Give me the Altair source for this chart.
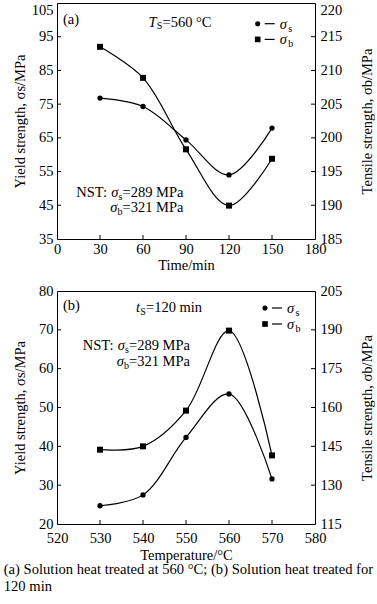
import altair as alt
import pandas as pd

FONT = "Liberation Serif, Times New Roman, serif"
FS = 14.5
SUB = 10

# ---------------- data ----------------
# (a) solution heat treated at 560 °C
time_min = [30, 60, 90, 120, 150]
yield_a = [76.8, 74.3, 64.4, 54.0, 67.9]
tensile_a = [213.5, 208.9, 198.3, 189.95, 196.9]
# (b) solution heat treated for 120 min
temp_c = [530, 540, 550, 560, 570]
yield_b = [24.7, 27.5, 42.3, 53.5, 31.6]
tensile_b = [143.7, 145.0, 158.8, 189.7, 141.5]

xticks_a = [0, 30, 60, 90, 120, 150, 180]
lticks_a = [35, 45, 55, 65, 75, 85, 95, 105]
rticks_a = [185, 190, 195, 200, 205, 210, 215, 220]
xticks_b = [520, 530, 540, 550, 560, 570, 580]
lticks_b = [20, 30, 40, 50, 60, 70, 80]
rticks_b = [115, 130, 145, 160, 175, 190, 205]

caption = ["(a) Solution heat treated at 560 °C; (b) Solution heat treated for",
           "120 min"]

one = pd.DataFrame({"k": [0]})


def txt(s, x, y, size=FS, style="normal", align="left"):
    return alt.Chart(one).mark_text(
        font=FONT, fontSize=size, fontStyle=style, align=align,
        baseline="alphabetic", color="black"
    ).encode(x=alt.value(x), y=alt.value(y), text=alt.value(s))


def top_baseline(ticks, flush):
    if not flush:
        return "middle"
    return {"condition": {"test": f"datum.value == {ticks[-1]}", "value": "top"},
            "value": "middle"}


def panel(xv, sv, bv, xticks, lticks, rticks, xtitle, W, H, ann, tp_left, flush_top, xpad, xtpad):
    df = pd.DataFrame({"x": xv, "s": sv, "b": bv})
    X = alt.X("x:Q", scale=alt.Scale(domain=[xticks[0], xticks[-1]], nice=False, zero=False),
              axis=alt.Axis(values=xticks, title=xtitle, format="d", domain=False, ticks=False,
                            grid=False, labelFlush=False, labelFont=FONT, labelFontSize=FS,
                            labelColor="black", labelPadding=xpad, titleFont=FONT,
                            titleFontSize=FS, titleFontWeight="normal", titleColor="black",
                            titlePadding=xtpad))
    YL = alt.Y("s:Q", scale=alt.Scale(domain=[lticks[0], lticks[-1]], nice=False, zero=False),
               axis=alt.Axis(orient="left", values=lticks, title="Yield strength, σs/MPa",
                             domain=False, ticks=False, grid=False, labelFont=FONT,
                             labelFontSize=FS, labelColor="black", labelPadding=4,
                             labelBaseline=top_baseline(lticks, flush_top), titleFont=FONT,
                             titleFontSize=FS, titleFontWeight="normal", titleColor="black",
                             titlePadding=tp_left))
    YR = alt.Y("b:Q", scale=alt.Scale(domain=[rticks[0], rticks[-1]], nice=False, zero=False),
               axis=alt.Axis(orient="right", values=rticks, title="Tensile strength, σb/MPa",
                             domain=False, ticks=False, grid=False, labelFont=FONT,
                             labelFontSize=FS, labelColor="black", labelPadding=5,
                             labelBaseline=top_baseline(rticks, flush_top),
                             titleFont=FONT, titleFontSize=FS, titleFontWeight="normal",
                             titleColor="black", titleAngle=270, titlePadding=33))
    base = alt.Chart(df)
    line_s = base.mark_line(interpolate="catmull-rom", color="black", strokeWidth=1.2).encode(x=X, y=YL)
    pts_s = base.mark_point(shape="circle", filled=True, size=28, color="black", opacity=1).encode(x=X, y=YL)
    tick_l = alt.Chart(pd.DataFrame({"s": lticks[1:-1]})).mark_rule(color="black", strokeWidth=1).encode(
        y=YL, x=alt.value(0), x2=alt.value(4))
    tick_x = alt.Chart(pd.DataFrame({"x": xticks[1:-1]})).mark_rule(color="black", strokeWidth=1).encode(
        x=X, y=alt.value(H - 4), y2=alt.value(H))
    line_b = base.mark_line(interpolate="catmull-rom", color="black", strokeWidth=1.2).encode(x=X, y=YR)
    pts_b = base.mark_point(shape="square", filled=True, size=36, color="black", opacity=1).encode(x=X, y=YR)
    tick_r = alt.Chart(pd.DataFrame({"b": rticks[1:-1]})).mark_rule(color="black", strokeWidth=1).encode(
        y=YR, x=alt.value(W - 4), x2=alt.value(W))

    a = ann
    layers = [line_s, pts_s, tick_l, tick_x]
    layers.append(txt(a["tag"], 6, a["tag_y"]))
    layers.append(txt(a["cond_var"], a["cond_x"], a["cond_y"], style="italic", align="right"))
    layers.append(txt("S", a["cond_x"] + 0.3, a["cond_y"] + 2.5, size=SUB))
    layers.append(txt(a["cond_rest"], a["cond_x"] + 6, a["cond_y"]))
    # legend
    lx, ly1, ly2 = a["leg_x"], a["leg_y1"], a["leg_y2"]
    layers.append(alt.Chart(one).mark_point(shape="circle", filled=True, size=26, color="black", opacity=1)
                  .encode(x=alt.value(lx), y=alt.value(ly1)))
    layers.append(alt.Chart(one).mark_point(shape="square", filled=True, size=32, color="black", opacity=1)
                  .encode(x=alt.value(lx), y=alt.value(ly2)))
    for yy in (ly1, ly2):
        layers.append(alt.Chart(one).mark_rule(color="black", strokeWidth=1.2)
                      .encode(x=alt.value(lx + 7), x2=alt.value(lx + 17), y=alt.value(yy)))
    layers.append(txt("σ", lx + 22, ly1 + 5, style="italic"))
    layers.append(txt("s", lx + 30.5, ly1 + 8, size=SUB))
    layers.append(txt("σ", lx + 22, ly2 + 5, style="italic"))
    layers.append(txt("b", lx + 30.5, ly2 + 8, size=SUB))
    # NST note
    ex, ny1, ny2 = a["nst_x"], a["nst_y1"], a["nst_y2"]
    layers.append(txt("NST:", ex - 15.5, ny1, align="right"))
    layers.append(txt("σ", ex - 4, ny1, style="italic", align="right"))
    layers.append(txt("s", ex - 4, ny1 + 3, size=SUB))
    layers.append(txt("=289 MPa", ex, ny1))
    layers.append(txt("σ", ex - 5, ny2, style="italic", align="right"))
    layers.append(txt("b", ex - 5, ny2 + 3, size=SUB))
    layers.append(txt("=321 MPa", ex, ny2))

    left = alt.layer(*layers)
    right = alt.layer(line_b, pts_b, tick_r)
    return alt.layer(left, right).resolve_scale(y="independent").properties(width=W, height=H)


ann_a = dict(tag="(a)", tag_y=21, cond_var="T", cond_x=99.5, cond_y=23.7, cond_rest="=560 °C",
             leg_x=200.7, leg_y1=20.7, leg_y2=36.4, nst_x=65.5, nst_y1=194.2, nst_y2=209.2)
ann_b = dict(tag="(b)", tag_y=19, cond_var="t", cond_x=83, cond_y=21, cond_rest="=120 min",
             leg_x=208, leg_y1=17, leg_y2=33, nst_x=72, nst_y1=59, nst_y2=75)

pa = panel(time_min, yield_a, tensile_a, xticks_a, lticks_a, rticks_a, "Time/min", 258, 236,
           ann_a, 4, True, 3, 3)
pb = panel(temp_c, yield_b, tensile_b, xticks_b, lticks_b, rticks_b, "Temperature/°C", 258, 233,
           ann_b, 11.25, False, 7.5, 3)

chart = alt.vconcat(pa, pb, spacing=9).properties(
    padding={"left": 3, "top": 1, "right": 0, "bottom": 0},
    background="white",
    title=alt.TitleParams(text=caption, orient="bottom", anchor="start", font=FONT,
                          fontSize=14.6, fontWeight="normal", color="black", lineHeight=17,
                          offset=0, dx=-8),
).configure_view(stroke="black", strokeWidth=1)

chart.save("out.html", embed_options={"renderer": "svg", "actions": False})
